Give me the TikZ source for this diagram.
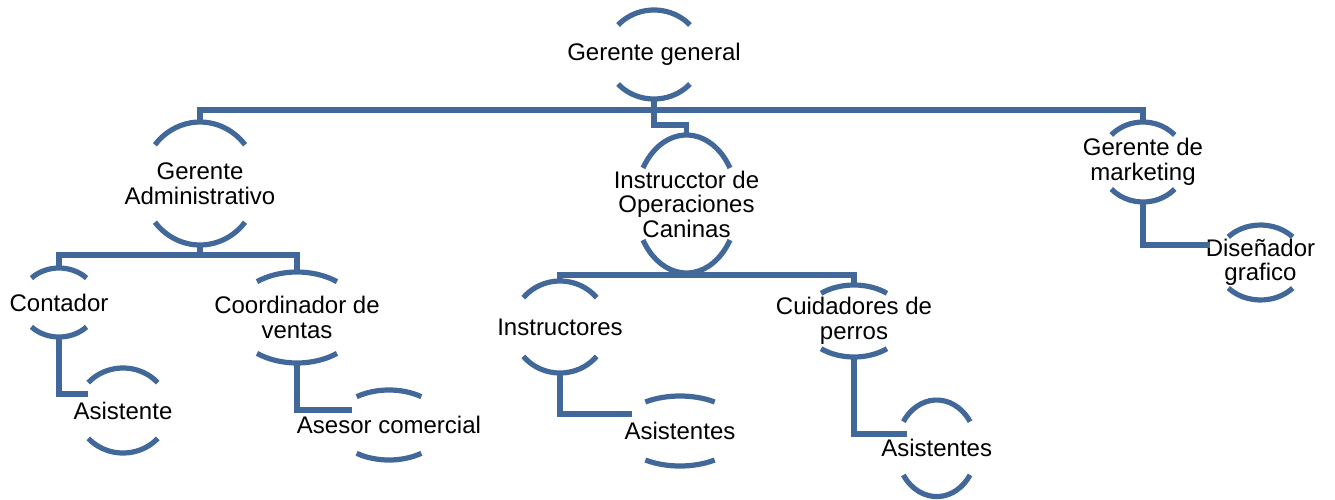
\documentclass[tikz,border=0pt]{standalone}
\usepackage{fontspec}
\setmainfont{Liberation Sans}
\usetikzlibrary{shapes.geometric}
\definecolor{orgblue}{RGB}{66,104,154}
\tikzset{
  conn/.style={draw=orgblue, line width=2.6pt, line join=miter},
  arcline/.style={draw=orgblue, line width=2.6pt},
  ringshape/.style={ellipse, inner sep=0pt, outer sep=0pt},
  lbl/.style={font=\fontsize{12pt}{12.25pt}\selectfont, align=center, inner sep=0pt, text=black}
}
% #1 name, #2 cx, #3 cy, #4 rx, #5 ry, #6 angle, #7 text
\newcommand\ringnode[7]{%
  \node[ringshape, minimum width=#4pt, minimum height=#5pt] (#1) at (#2,-#3) {};
  \node[lbl] (#1-t) at (#1.center) {#7};
  \draw[arcline] ([shift={(#6:#4*0.5pt and #5*0.5pt)}]#1.center) arc[start angle=#6, end angle=180-#6, x radius=#4*0.5pt, y radius=#5*0.5pt];
  \draw[arcline] ([shift={(180+#6:#4*0.5pt and #5*0.5pt)}]#1.center) arc[start angle=180+#6, end angle=360-#6, x radius=#4*0.5pt, y radius=#5*0.5pt];
}
\begin{document}
\begin{tikzpicture}[x=0.5pt, y=0.5pt]
\useasboundingbox (0,0) rectangle (1335,-499);
\ringnode{gg}{654}{54.5}{48}{44.5}{41.5}{Gerente general}
\ringnode{ga}{200}{183.5}{58}{61.5}{39}{Gerente\\Administrativo}
\ringnode{ioc}{686.5}{204}{51}{69}{31.5}{Instrucctor de\\Operaciones\\Caninas}
\ringnode{gm}{1143}{162}{43}{40}{42.5}{Gerente de\\marketing}
\ringnode{cont}{59}{302.5}{39}{34.5}{45}{Contador}
\ringnode{coord}{297}{317.5}{65}{45.5}{52}{Coordinador de\\ventas}
\ringnode{asi}{123}{410.5}{46}{42.5}{41}{Asistente}
\ringnode{ase}{389}{425}{55}{35}{54}{Asesor comercial}
\ringnode{ins}{560}{327}{47.6}{46}{39.6}{Instructores}
\ringnode{asisa}{680}{431}{62}{35}{56}{Asistentes}
\ringnode{cui}{854}{321}{51.6}{36}{50.3}{Cuidadores de\\perros}
\ringnode{asisb}{936.7}{448.3}{40}{48.3}{33.5}{Asistentes}
\ringnode{dis}{1260.5}{262.5}{44}{37.5}{43}{Diseñador\\grafico}
% connector entry points
\coordinate (asi-in) at (88,-394);
\coordinate (ase-in) at (352,-410);
\coordinate (asisa-in) at (631.7,-414);
\coordinate (asisb-in) at (906.7,-434);
\coordinate (dis-in) at (1210,-245);
% connectors
\draw[conn] (gg.south) -- ++(0,-11) coordinate (ggbus);
\draw[conn] (ga.north) -- (ga.north |- ggbus) -- (gm.north |- ggbus) -- (gm.north);
\draw[conn] (ggbus) -- ++(0,-15) -| (ioc.north);
\draw[conn] (ga.south) -- ++(0,-10) coordinate (gabus);
\draw[conn] (cont.north) -- (cont.north |- gabus) -- (coord.north |- gabus) -- (coord.north);
\draw[conn] (ioc.south) -- ++(0,-2) coordinate (iocbus);
\draw[conn] (ins.north) -- (ins.north |- iocbus) -- (cui.north |- iocbus) -- (cui.north);
\draw[conn] (cont.south) |- (asi-in);
\draw[conn] (coord.south) |- (ase-in);
\draw[conn] (ins.south) |- (asisa-in);
\draw[conn] (cui.south) |- (asisb-in);
\draw[conn] (gm.south) |- (dis-in);
\end{tikzpicture}
\end{document}
